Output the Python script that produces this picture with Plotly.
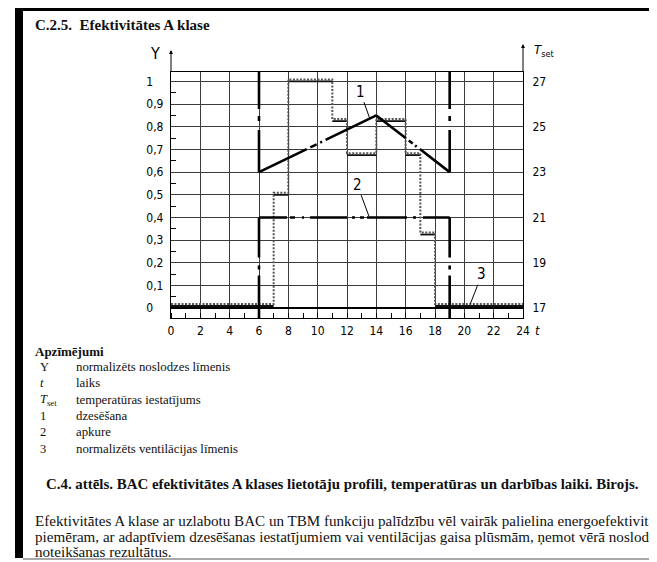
import plotly.graph_objects as go

# ---------------- data ----------------
hour_ticks = list(range(0, 25, 2))
hour_ticktext = [str(h) for h in hour_ticks]
y_tickvals = [0, 0.1, 0.2, 0.3, 0.4, 0.5, 0.6, 0.7, 0.8, 0.9, 1.0]
y_ticktext = ["0", "0,1", "0,2", "0,3", "0,4", "0,5", "0,6", "0,7", "0,8", "0,9", "1"]
tset_tickvals = [17, 19, 21, 23, 25, 27]
tset_ticktext = ["17", "19", "21", "23", "25", "27"]

# 1 - cooling set point (T_set)
cooling_t = [6, 14, 19]
cooling_tset = [23, 25.5, 23]
# 2 - heating set point (T_set)
heating_t = [6, 19]
heating_tset = [21, 21]
# 3 - normalised ventilation level (Y), step profile
vent_t = [0, 7, 8, 11, 12, 14, 16, 17, 18, 24]
vent_y = [0.01, 0.5, 1.0, 0.825, 0.675, 0.825, 0.675, 0.325, 0.01, 0.01]

# ---------------- layout geometry (page pixels) ----------------
OFF = 8                      # default page margin around the plot div
PAGE_W, PAGE_H = 657, 562
W, H = PAGE_W - OFF, PAGE_H - OFF
L, R, T, B = 171, 523, 72, 318
PW, PH = R - L, B - T
Y_RANGE = [-0.043, 1.0415]
T_RANGE = [17 + 10 * Y_RANGE[0], 17 + 10 * Y_RANGE[1]]
Y_PER_PX = (Y_RANGE[1] - Y_RANGE[0]) / PH


def px(x):
    return (x - L) / PW


def py(y):
    return (B - y) / PH


SANS = "DejaVu Sans Condensed, Liberation Sans Narrow, DejaVu Sans, Arial, sans-serif"
SERIF = "Liberation Serif, DejaVu Serif, serif"
LINE_W = 2.6

fig = go.Figure()

# ventilation: solid horizontal parts + dotted step line slightly above
hx, hy = [], []
for i in range(len(vent_t) - 1):
    hx += [vent_t[i], vent_t[i + 1], None]
    hy += [vent_y[i], vent_y[i], None]
fig.add_trace(go.Scatter(x=hx, y=hy, mode="lines", line=dict(color="#111", width=1.8),
                         showlegend=False, hoverinfo="skip"))
fig.add_trace(go.Scatter(x=vent_t, y=[v + 2 * Y_PER_PX for v in vent_y], mode="lines",
                         line=dict(color="#555", width=2, shape="hv", dash="2px,1.5px"),
                         showlegend=False, hoverinfo="skip"))

BREAK_V = "37px,7px,5px,9px,400px"
BREAK_VH = "40px,8px,4px,6px,400px"


def seg(xs, ys, dash, yaxis="y2"):
    fig.add_trace(go.Scatter(x=xs, y=ys, yaxis=yaxis, mode="lines",
                             line=dict(color="black", width=LINE_W, dash=dash),
                             showlegend=False, hoverinfo="skip"))


# cooling (1)
seg([cooling_t[0], cooling_t[0]], [T_RANGE[1], cooling_tset[0]], BREAK_V)
seg(cooling_t[0:2], cooling_tset[0:2], "53px,4px,7px,4px,2px,4px,400px")
seg(cooling_t[1:3], cooling_tset[1:3], "37px,4px,5px,3px,2px,4px,400px")
seg([cooling_t[2], cooling_t[2]], [T_RANGE[1], cooling_tset[2]], BREAK_V)

# heating (2)
seg([heating_t[0], heating_t[0]], [heating_tset[0], T_RANGE[0]], BREAK_VH)
seg(heating_t, heating_tset,
    "28px,3px,5px,7px,2px,6px,37px,5px,3px,5px,4px,3px,40px,6px,3px,7px,400px")
seg([heating_t[1], heating_t[1]], [heating_tset[1], T_RANGE[0]], BREAK_VH)

ann = []
# curve labels with leader lines
lab_font = dict(family=SANS, size=15, color="black")
ann.append(dict(x=13.55, y=25.37, xref="x", yref="y2", ax=12.9, ay=26.55, axref="x", ayref="y2",
                text="1", showarrow=True, arrowhead=0, arrowwidth=1, arrowcolor="black",
                font=lab_font, standoff=0))
ann.append(dict(x=13.5, y=21.05, xref="x", yref="y2", ax=12.7, ay=22.45, axref="x", ayref="y2",
                text="2", showarrow=True, arrowhead=0, arrowwidth=1, arrowcolor="black",
                font=lab_font, standoff=0))
ann.append(dict(x=20.4, y=0.018, xref="x", yref="y", ax=21.2, ay=0.15, axref="x", ayref="y",
                text="3", showarrow=True, arrowhead=0, arrowwidth=1, arrowcolor="black",
                font=lab_font, standoff=0))

# axis arrows and titles
ann.append(dict(x=0, y=py(50), xref="x", yref="paper", ax=0, ay=24, text=" ", showarrow=True,
                arrowhead=2, arrowsize=0.8, arrowwidth=1, arrowcolor="black", standoff=0,
                font=dict(size=1)))
ann.append(dict(x=24, y=py(44), xref="x", yref="paper", ax=0, ay=30, text=" ", showarrow=True,
                arrowhead=2, arrowsize=0.8, arrowwidth=1, arrowcolor="black", standoff=0,
                font=dict(size=1)))


def chart_text(x, y, text, size, anchor="center"):
    ann.append(dict(x=px(x), y=py(y), xref="paper", yref="paper",
                    xanchor=anchor, yanchor="middle", text=text, showarrow=False,
                    font=dict(family=SANS, size=size, color="black")))


chart_text(155, 54, "Y", 16)
chart_text(532, 50, "<i>T</i><sub>set</sub>", 13, anchor="left")
chart_text(537, 330, "<i>t</i>", 13)


def doc_text(x, y, text, size, bold=False, anchor="left"):
    if bold:
        text = "<b>" + text + "</b>"
    ann.append(dict(x=px(x), y=py(y), xref="paper", yref="paper", xanchor=anchor,
                    yanchor="middle", text=text, showarrow=False,
                    font=dict(family=SERIF, size=size, color="#111")))


doc_text(33, 25, "C.2.5.&nbsp;&nbsp;Efektivitātes A klase", 15, bold=True)
doc_text(33, 351, "Apzīmējumi", 13, bold=True)
sym = ["Y", "<i>t</i>", "<i>T</i><sub>set</sub>", "1", "2", "3"]
desc = ["normalizēts noslodzes līmenis", "laiks", "temperatūras iestatījums",
        "dzesēšana", "apkure", "normalizēts ventilācijas līmenis"]
row_y = [367, 383.5, 400, 416, 432, 448.5]
for s, d, yy in zip(sym, desc, row_y):
    doc_text(38, yy, s, 12.5)
    doc_text(74, yy, d, 12.8)
doc_text(44, 484, "C.4. attēls. BAC efektivitātes A klases lietotāju profili, temperatūras un darbības laiki. Birojs.", 14.9, bold=True)
para = ["Efektivitātes A klase ar uzlabotu BAC un TBM funkciju palīdzību vēl vairāk palielina energoefektivitāt",
        "piemēram, ar adaptīviem dzesēšanas iestatījumiem vai ventilācijas gaisa plūsmām, ņemot vērā noslodze",
        "noteikšanas rezultātus."]
for line, yy in zip(para, [521, 537, 552]):
    doc_text(33, yy, line, 15.1)


def box(x0, x1, y0, y1):
    return dict(type="rect", xref="paper", yref="paper", x0=px(x0), x1=px(x1),
                y0=py(y0), y1=py(y1), fillcolor="black", line=dict(width=0),
                layer="above")


shapes = [
    box(15, 23, 3, 558),
    box(15, PAGE_W + 2, 3, 11),
    dict(type="line", xref="paper", yref="paper", x0=px(23), x1=px(PAGE_W + 2),
         y0=py(559), y1=py(559), line=dict(color="#555", width=1.2), layer="above"),
]

GRID = "#3c3c3c"
fig.update_layout(
    width=W, height=H,
    margin=dict(l=L - OFF, r=PAGE_W - R, t=T - OFF, b=PAGE_H - B, pad=0),
    paper_bgcolor="white", plot_bgcolor="white",
    showlegend=False,
    annotations=ann, shapes=shapes,
    xaxis=dict(range=[0, 24], tickmode="array", tickvals=hour_ticks, ticktext=hour_ticktext,
               showgrid=True, gridcolor=GRID, gridwidth=1, zeroline=False,
               showline=True, linecolor="black", linewidth=1.2, mirror=True,
               ticks="", ticklabelstandoff=1,
               tickfont=dict(family=SANS, size=12, color="black"),
               minor=dict(ticks="inside", dtick=1, tick0=0, ticklen=5, tickcolor="black",
                          tickwidth=1, showgrid=False)),
    yaxis=dict(range=Y_RANGE, tickmode="array", tickvals=y_tickvals,
               ticktext=[t if "," in t else t + "\u2008\u2007" for t in y_ticktext],
               showgrid=True, gridcolor=GRID, gridwidth=1,
               zeroline=True, zerolinecolor="black", zerolinewidth=2.2,
               showline=True, linecolor="black", linewidth=1.2,
               ticks="", ticklabelstandoff=4,
               tickfont=dict(family=SANS, size=12, color="black"),
               minor=dict(ticks="inside", tickmode="linear", tick0=0.05, dtick=0.1, ticklen=5,
                          tickcolor="black", tickwidth=1, showgrid=False)),
    yaxis2=dict(range=T_RANGE, overlaying="y", side="right", tickmode="array",
                tickvals=tset_tickvals, ticktext=tset_ticktext, showgrid=False, zeroline=False,
                showline=True, linecolor="black", linewidth=1.2, ticks="", ticklabelstandoff=6,
                tickfont=dict(family=SANS, size=12, color="black")),
)

fig.write_html("out.html", config={"displayModeBar": False})
